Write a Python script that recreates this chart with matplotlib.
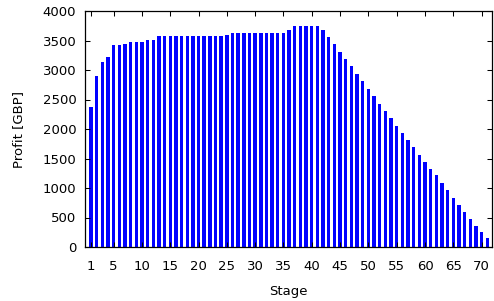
import matplotlib
matplotlib.use("Agg")
import matplotlib.pyplot as plt

stages = list(range(1, 72))
profit = [2373, 2893, 3130, 3220, 3418, 3418, 3446, 3469, 3469, 3469,
          3503, 3503, 3571, 3571, 3571, 3571, 3571, 3571, 3571, 3571,
          3571, 3582, 3582, 3582, 3599, 3627, 3633, 3633, 3633, 3633,
          3633, 3633, 3633, 3633, 3633, 3672, 3740, 3740, 3740, 3740,
          3740, 3683, 3559, 3435, 3311, 3186, 3062, 2938, 2814, 2684,
          2554, 2430, 2305, 2187, 2057, 1927, 1808, 1689, 1565, 1446,
          1328, 1215, 1090, 961, 836, 718, 599, 480, 362, 260, 147]
xticks = [1, 5, 10, 15, 20, 25, 30, 35, 40, 45, 50, 55, 60, 65, 70]
yticks = [0, 500, 1000, 1500, 2000, 2500, 3000, 3500, 4000]

plt.rcParams['font.family'] = ['DejaVu Sans']
fig = plt.figure(figsize=(4.94, 3.01), dpi=100)
ax = fig.add_axes([85.3/494, 1-247/301, (491.7-85.3)/494, (247-11)/301])
ax.bar(stages, profit, width=0.6, color='#0000ff', linewidth=0)
ax.set_xlim(0, 71.78)
ax.set_ylim(0, 4000)
ax.set_xticks(xticks)
ax.set_yticks(yticks)
ax.tick_params(direction='in', length=3.6, width=0.75, top=True, right=True,
               labelsize=9.5, colors='black')
ax.tick_params(axis='x', pad=9.5)
ax.tick_params(axis='y', pad=6.5)
for s in ax.spines.values():
    s.set_linewidth(0.9)
ax.set_xlabel('Stage', fontsize=9.5)
ax.set_ylabel('Profit [GBP]', fontsize=9.5)
ax.xaxis.set_label_coords(0.5, -(291.5-247)/236, transform=ax.transAxes)
ax.yaxis.set_label_coords(-(85.3-19)/406.4, 0.5, transform=ax.transAxes)
ax.xaxis.label.set_va('center')
ax.yaxis.label.set_va('center')
fig.savefig('out.png', dpi=100)
